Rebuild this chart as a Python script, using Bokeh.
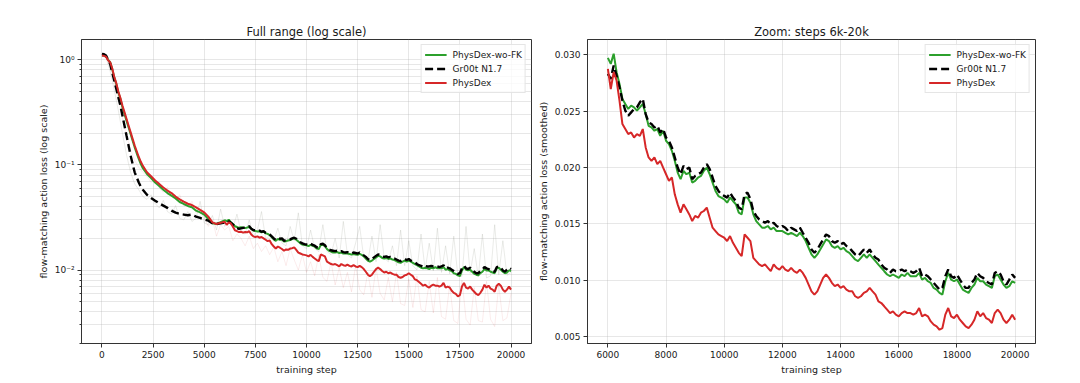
from bokeh.plotting import figure
from bokeh.layouts import row
from bokeh.models import (Range1d, FixedTicker, NumeralTickFormatter, Legend,
                          LegendItem, ColumnDataSource)
from bokeh.embed import file_html
from bokeh.resources import INLINE

FONT = "DejaVu Sans"
TEXT = "#1a1a1a"
GREEN = "#2ca02c"
RED = "#d62728"
BLACK = "#000000"

# ---- smoothed training curves -------------------------------------------
steps = (list(range(0, 2001, 100)) + list(range(2200, 5801, 200))
         + list(range(6000, 20001, 100)))

wofk = [
    # 0 .. 2000 (every 100)
    1.10, 1.10, 1.08, 1.0, 0.95, 0.82, 0.68, 0.59, 0.49, 0.425, 0.354,
    0.306, 0.264, 0.228, 0.197, 0.170, 0.147, 0.129, 0.114, 0.102, 0.093,
    # 2200 .. 5800 (every 200)
    0.082, 0.075, 0.068, 0.063, 0.058, 0.054, 0.051, 0.048, 0.0444, 0.0425,
    0.0407, 0.0395, 0.0367, 0.0354, 0.0337, 0.0305, 0.0278, 0.0274, 0.0285,
    # 6000 .. 20000 (every 100)
    0.02973, 0.0292, 0.0301, 0.02846, 0.02742, 0.02609, 0.02564, 0.0252, 0.02549, 0.02534,
    0.02505, 0.02534, 0.02564, 0.02475, 0.02371, 0.02356, 0.02327, 0.02342, 0.02282, 0.02327,
    0.02238, 0.02208, 0.02149, 0.0206, 0.01956, 0.01897, 0.01971, 0.01941, 0.01956, 0.01867,
    0.01882, 0.01912, 0.01926, 0.01971, 0.0200, 0.01941, 0.01867, 0.01793, 0.01748, 0.01734,
    0.01719, 0.01689, 0.01734, 0.01704, 0.01675, 0.0160, 0.01586, 0.01734, 0.01734, 0.01689,
    0.01586, 0.01526, 0.01496, 0.01467, 0.01467, 0.01482, 0.01452, 0.01467, 0.01437, 0.01437,
    0.01437, 0.01422, 0.01407, 0.01422, 0.01407, 0.01393, 0.01422, 0.01393, 0.01348, 0.01289,
    0.0123, 0.0120, 0.0123, 0.01274, 0.01319, 0.01363, 0.01348, 0.01304, 0.01289, 0.01304,
    0.01274, 0.01289, 0.01259, 0.01244, 0.01215, 0.01185, 0.0117, 0.0120, 0.0123, 0.0120,
    0.0123, 0.0120, 0.0117, 0.0114, 0.01111, 0.01081, 0.01052, 0.01037, 0.01052, 0.01037,
    0.01022, 0.01052, 0.01037, 0.01066, 0.01037, 0.01037, 0.01037, 0.01066, 0.01007, 0.01022,
    0.00992, 0.00977, 0.00933, 0.00918, 0.00889, 0.00874, 0.00992, 0.01066, 0.01007, 0.00992,
    0.01007, 0.00963, 0.00918, 0.00903, 0.00889, 0.00933, 0.00963, 0.01022, 0.00992, 0.00992,
    0.00963, 0.00948, 0.00933, 0.01037, 0.01052, 0.01007, 0.00963, 0.00933, 0.00948, 0.00992,
    0.00977,
]

gr00t = [
    1.14, 1.13, 1.10, 1.0, 0.915, 0.76, 0.635, 0.53, 0.44, 0.367, 0.295,
    0.237, 0.19, 0.153, 0.123, 0.102, 0.085, 0.076, 0.068, 0.062, 0.058,
    0.052, 0.0485, 0.0457, 0.0431, 0.041, 0.039, 0.0367, 0.0352, 0.0342, 0.0337,
    0.0332, 0.0337, 0.0322, 0.0313, 0.0303, 0.0295, 0.0278, 0.0274, 0.0278,
    0.02831, 0.02786, 0.02905, 0.02816, 0.02712, 0.02594, 0.02505, 0.0246, 0.0249, 0.0252,
    0.02534, 0.02579, 0.02609, 0.02475, 0.02401, 0.02386, 0.02356, 0.02371, 0.02312, 0.02342,
    0.02267, 0.02238, 0.02179, 0.0209, 0.0200, 0.01941, 0.02015, 0.01986, 0.0200, 0.01897,
    0.01926, 0.01941, 0.01956, 0.0200, 0.0203, 0.01986, 0.01912, 0.01837, 0.01793, 0.01763,
    0.01749, 0.01734, 0.01778, 0.01734, 0.01704, 0.01645, 0.0163, 0.01763, 0.01778, 0.01719,
    0.01615, 0.01571, 0.01541, 0.01526, 0.01511, 0.01526, 0.01496, 0.01511, 0.01482, 0.01467,
    0.01482, 0.01467, 0.01437, 0.01467, 0.01452, 0.01437, 0.01467, 0.01422, 0.01378, 0.01333,
    0.01274, 0.01244, 0.01274, 0.01319, 0.01363, 0.01407, 0.01393, 0.01348, 0.01333, 0.01348,
    0.01319, 0.01333, 0.01304, 0.01289, 0.01259, 0.0123, 0.01215, 0.01244, 0.01274, 0.01244,
    0.01274, 0.0123, 0.0120, 0.01185, 0.01141, 0.01111, 0.01096, 0.01066, 0.01096, 0.01081,
    0.01081, 0.01096, 0.01081, 0.01096, 0.01081, 0.01066, 0.01081, 0.01111, 0.01037, 0.01052,
    0.01037, 0.01007, 0.00977, 0.00948, 0.00918, 0.00933, 0.01037, 0.01096, 0.01037, 0.01022,
    0.01052, 0.01007, 0.00963, 0.00933, 0.00933, 0.00977, 0.01007, 0.01066, 0.01037, 0.01022,
    0.00992, 0.00977, 0.00963, 0.01066, 0.01081, 0.01052, 0.00992, 0.00963, 0.01007, 0.01052,
    0.01022,
]

physdex = [
    1.10, 1.09, 1.07, 0.99, 0.95, 0.83, 0.69, 0.60, 0.50, 0.435, 0.367,
    0.318, 0.275, 0.237, 0.205, 0.177, 0.153, 0.135, 0.119, 0.107, 0.098,
    0.085, 0.078, 0.071, 0.066, 0.061, 0.057, 0.054, 0.050, 0.047, 0.0447,
    0.0427, 0.0415, 0.0395, 0.0373, 0.0354, 0.0322, 0.0284, 0.0274, 0.0282,
    0.02875, 0.02697, 0.02846, 0.02772, 0.02594, 0.02386, 0.02342, 0.02297, 0.02312, 0.02267,
    0.02297, 0.02282, 0.02342, 0.02179, 0.0209, 0.0206, 0.0209, 0.0203, 0.0206, 0.0200,
    0.01941, 0.01882, 0.01912, 0.01763, 0.01674, 0.0160, 0.01674, 0.0163, 0.01585, 0.01526,
    0.01571, 0.01556, 0.0160, 0.01615, 0.01645, 0.01556, 0.01467, 0.01437, 0.01407, 0.01393,
    0.01378, 0.01348, 0.01393, 0.01333, 0.01289, 0.01244, 0.01215, 0.01407, 0.01378, 0.01348,
    0.0120, 0.0117, 0.01141, 0.01126, 0.01141, 0.01111, 0.01081, 0.01141, 0.01111, 0.01096,
    0.01126, 0.01096, 0.01081, 0.01111, 0.01081, 0.01066, 0.01096, 0.01066, 0.01022, 0.00963,
    0.00903, 0.00874, 0.00903, 0.00963, 0.01022, 0.01052, 0.01022, 0.00978, 0.00948, 0.00963,
    0.00933, 0.00948, 0.00918, 0.00903, 0.00903, 0.00859, 0.00844, 0.00859, 0.00889, 0.00903,
    0.00933, 0.00903, 0.00874, 0.00814, 0.00799, 0.0077, 0.0074, 0.0071, 0.00725, 0.00696,
    0.00681, 0.0071, 0.00725, 0.0071, 0.0071, 0.00696, 0.0071, 0.00755, 0.00681, 0.00696,
    0.00681, 0.00636, 0.00607, 0.00592, 0.00562, 0.00577, 0.00696, 0.00755, 0.00681, 0.00666,
    0.00696, 0.00651, 0.00622, 0.00592, 0.00577, 0.00607, 0.00651, 0.00725, 0.00681, 0.0071,
    0.00666, 0.00651, 0.00622, 0.0071, 0.0074, 0.0071, 0.00651, 0.00622, 0.00651, 0.00696,
    0.00651,
]

# ---- raw (unsmoothed) losses, drawn faintly behind the full-range panel --
raw_steps = list(range(0, 20001, 200))
raw_gr00t = [
    1.12, 1.05, 0.78, 0.52, 0.33, 0.20, 0.125, 0.085, 0.066, 0.058, 0.050,
    0.047, 0.052, 0.043, 0.039, 0.046, 0.036, 0.034, 0.041, 0.031, 0.030,
    0.036, 0.029, 0.031, 0.045, 0.028, 0.027, 0.033, 0.024, 0.038, 0.026,
    0.029, 0.025, 0.034, 0.023, 0.022, 0.030, 0.021, 0.024, 0.036, 0.020,
    0.021, 0.019, 0.025, 0.018, 0.017, 0.026, 0.019, 0.035, 0.017, 0.016,
    0.024, 0.016, 0.015, 0.027, 0.015, 0.014, 0.020, 0.013, 0.029, 0.014,
    0.013, 0.018, 0.026, 0.013, 0.012, 0.021, 0.012, 0.027, 0.013, 0.012,
    0.017, 0.011, 0.024, 0.011, 0.019, 0.011, 0.010, 0.022, 0.010, 0.018,
    0.0098, 0.025, 0.0095, 0.017, 0.0092, 0.021, 0.0088, 0.0087, 0.026, 0.0093,
    0.016, 0.0086, 0.022, 0.0084, 0.0088, 0.027, 0.0090, 0.019, 0.0089, 0.0095,
]
raw_physdex = [
    1.10, 1.06, 0.86, 0.62, 0.42, 0.28, 0.19, 0.14, 0.11, 0.095, 0.085,
    0.078, 0.068, 0.074, 0.060, 0.055, 0.061, 0.050, 0.047, 0.052, 0.041,
    0.040, 0.045, 0.035, 0.036, 0.032, 0.026, 0.030, 0.021, 0.027, 0.024,
    0.026, 0.019, 0.022, 0.020, 0.017, 0.021, 0.016, 0.018, 0.015, 0.017,
    0.014, 0.0165, 0.012, 0.015, 0.011, 0.016, 0.0125, 0.010, 0.014, 0.0095,
    0.012, 0.0088, 0.014, 0.0085, 0.0078, 0.012, 0.0072, 0.0105, 0.0068, 0.0095,
    0.0062, 0.011, 0.0065, 0.0058, 0.0095, 0.0055, 0.0105, 0.0060, 0.0052, 0.0085,
    0.0050, 0.0095, 0.0048, 0.0046, 0.0082, 0.0044, 0.0088, 0.0042, 0.0040, 0.0078,
    0.0039, 0.0085, 0.0036, 0.0034, 0.0072, 0.0033, 0.0031, 0.0080, 0.0034, 0.0030,
    0.0068, 0.0033, 0.0032, 0.0078, 0.0034, 0.0029, 0.0072, 0.0033, 0.0035, 0.0060,
]

LABELS = ["PhysDex-wo-FK", "Gr00t N1.7", "PhysDex"]

full = ColumnDataSource(dict(step=steps, wofk=wofk, gr00t=gr00t, physdex=physdex))
raw = ColumnDataSource(dict(step=raw_steps, gr00t=raw_gr00t, physdex=raw_physdex))
k0 = steps.index(6000)
zoom = ColumnDataSource(dict(step=steps[k0:], wofk=wofk[k0:],
                             gr00t=gr00t[k0:], physdex=physdex[k0:]))


def style(p, title):
    p.title.text = title
    p.title.text_font = FONT
    p.title.text_font_size = "11.5px"
    p.title.text_font_style = "normal"
    p.title.text_color = TEXT
    p.title.align = "center"
    p.title.standoff = 2
    p.outline_line_color = "#333333"
    p.outline_line_width = 1
    p.outline_line_alpha = 1
    p.background_fill_color = "white"
    p.border_fill_color = "white"
    for ax in p.axis:
        ax.major_label_text_font = FONT
        ax.major_label_text_font_size = "9px"
        ax.major_label_text_color = TEXT
        ax.axis_label_text_font = FONT
        ax.axis_label_text_font_size = "9.5px"
        ax.axis_label_text_font_style = "normal"
        ax.axis_label_text_color = TEXT
        ax.axis_line_color = "#333333"
        ax.major_tick_line_color = "#333333"
        ax.minor_tick_line_color = "#333333"
        ax.major_tick_in = 0
        ax.major_tick_out = 4
        ax.minor_tick_in = 0
        ax.minor_tick_out = 2
        ax.major_label_standoff = 3
        ax.axis_label_standoff = 3
    p.xaxis.minor_tick_line_color = None
    p.xaxis.axis_label = "training step"
    p.xaxis.formatter = NumeralTickFormatter(format="0")
    for g in (p.xgrid, p.ygrid):
        g.grid_line_color = "#b0b0b0"
        g.grid_line_alpha = 0.3
        g.grid_line_width = 1


def curves(p, src):
    g = p.line("step", "wofk", source=src, color=GREEN, line_width=2)
    b = p.line("step", "gr00t", source=src, color=BLACK, line_width=2.4,
               line_dash="8 4")
    r = p.line("step", "physdex", source=src, color=RED, line_width=2)
    leg = Legend(items=[LegendItem(label=LABELS[0], renderers=[g]),
                        LegendItem(label=LABELS[1], renderers=[b]),
                        LegendItem(label=LABELS[2], renderers=[r])],
                 location="top_right", margin=5, padding=3, spacing=1,
                 glyph_width=22, glyph_height=13, label_height=13,
                 label_standoff=6, label_text_font=FONT,
                 label_text_font_size="9px", label_text_color=TEXT,
                 border_line_color="#cccccc", border_line_width=1,
                 background_fill_alpha=0.8)
    p.add_layout(leg)


# ---- left panel: full range on a log axis --------------------------------
p1 = figure(width=534, height=383, y_axis_type="log",
            x_range=Range1d(-1000, 21000), y_range=Range1d(0.002, 1.56),
            output_backend="svg", toolbar_location=None,
            min_border_left=81, min_border_right=3,
            min_border_top=39, min_border_bottom=40)
style(p1, "Full range (log scale)")
p1.xaxis.ticker = FixedTicker(ticks=list(range(0, 20001, 2500)))
decades = [0.001, 0.01, 0.1, 1.0]
p1.yaxis.ticker = FixedTicker(
    ticks=[0.01, 0.1, 1.0],
    minor_ticks=[m * d for d in decades for m in range(2, 10)])
p1.yaxis.major_label_overrides = {0.01: "10\u207b\u00b2", 0.1: "10\u207b\u00b9",
                                  1.0: "10\u2070"}
p1.yaxis.axis_label = "flow-matching action loss (log scale)"
p1.ygrid.minor_grid_line_color = "#b0b0b0"
p1.ygrid.minor_grid_line_alpha = 0.3

p1.line("step", "gr00t", source=raw, color="#8a8f80", alpha=0.18, line_width=1)
p1.line("step", "physdex", source=raw, color=RED, alpha=0.09, line_width=1)
curves(p1, full)

# ---- right panel: zoom on steps 6k-20k ----------------------------------
p2 = figure(width=546, height=383,
            x_range=Range1d(5300, 20700), y_range=Range1d(0.0044, 0.03136),
            output_backend="svg", toolbar_location=None,
            min_border_left=52, min_border_right=45,
            min_border_top=39, min_border_bottom=40)
style(p2, "Zoom: steps 6k-20k")
p2.xaxis.ticker = FixedTicker(ticks=list(range(6000, 20001, 2000)))
p2.yaxis.ticker = FixedTicker(ticks=[0.005, 0.010, 0.015, 0.020, 0.025, 0.030])
p2.yaxis.formatter = NumeralTickFormatter(format="0.000")
p2.yaxis.minor_tick_line_color = None
p2.yaxis.axis_label = "flow-matching action loss (smoothed)"
curves(p2, zoom)

layout = row(p1, p2)
open("out.html", "w").write(file_html(layout, INLINE))
